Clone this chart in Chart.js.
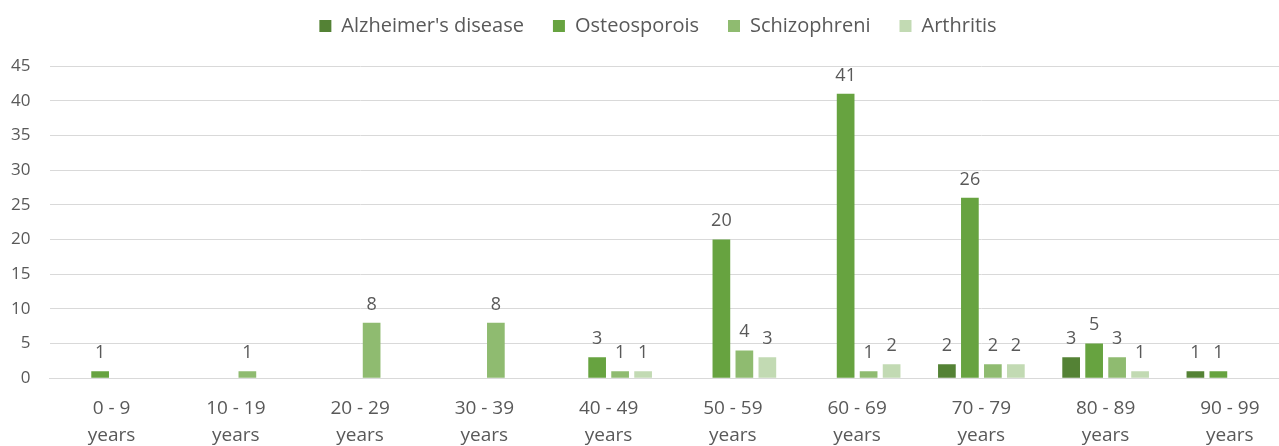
<!DOCTYPE html>
<html>
<head>
<meta charset="utf-8">
<script src="https://cdn.jsdelivr.net/npm/chart.js@4"></script>
<style>
  html, body { margin: 0; padding: 0; background: #fff; overflow: hidden; }
  #wrap { width: 1300px; height: 446px; }
</style>
</head>
<body>
<div id="wrap"><canvas id="chart"></canvas></div>
<script>
const ageGroups = [
  ['0 - 9', 'years'], ['10 - 19', 'years'], ['20 - 29', 'years'], ['30 - 39', 'years'],
  ['40 - 49', 'years'], ['50 - 59', 'years'], ['60 - 69', 'years'], ['70 - 79', 'years'],
  ['80 - 89', 'years'], ['90 - 99', 'years']
];
const alzheimers   = [0, 0, 0, 0, 0, 0, 0, 2, 3, 1];
const osteoporosis = [1, 0, 0, 0, 3, 20, 41, 26, 5, 1];
const schizophreni = [0, 1, 8, 8, 1, 4, 1, 2, 3, 0];
const arthritis    = [0, 0, 0, 0, 1, 3, 2, 2, 1, 0];

const textColor = '#595959';
const fontFamily = "'Open Sans', sans-serif";

// draws the value above each bar, skipping zeros
const valueLabels = {
  id: 'valueLabels',
  afterDatasetsDraw(chart) {
    const ctx = chart.ctx;
    ctx.save();
    ctx.font = '18px ' + fontFamily;
    ctx.fillStyle = textColor;
    ctx.textAlign = 'center';
    ctx.textBaseline = 'alphabetic';
    chart.data.datasets.forEach((ds, i) => {
      chart.getDatasetMeta(i).data.forEach((bar, j) => {
        if (!ds.data[j]) return;
        ctx.fillText(ds.data[j], bar.x, bar.y - 13);
      });
    });
    ctx.restore();
  }
};

// legend: fixed box height, nudged right to sit over the visible plot
const legendTweak = {
  id: 'legendTweak',
  beforeInit(chart) {
    const fit = chart.legend.fit;
    chart.legend.fit = function() {
      fit.call(this);
      this.height = 79;
    };
  },
  afterLayout(chart) {
    chart.legend.left += 24;
  }
};

new Chart(document.getElementById('chart'), {
  type: 'bar',
  data: {
    labels: ageGroups,
    datasets: [
      { label: "Alzheimer's disease", data: alzheimers, backgroundColor: '#548235' },
      { label: 'Osteosporois', data: osteoporosis, backgroundColor: '#67a340' },
      { label: 'Schizophreni', data: schizophreni, backgroundColor: '#8fbb70' },
      { label: 'Arthritis', data: arthritis, backgroundColor: '#c2dab3' }
    ]
  },
  options: {
    responsive: true,
    maintainAspectRatio: false,
    animation: false,
    layout: { padding: { top: -13, right: 8, left: 0, bottom: -20 } },
    datasets: { bar: { categoryPercentage: 0.74, barPercentage: 0.77 } },
    plugins: {
      legend: {
        position: 'top',
        labels: {
          color: textColor,
          font: { size: 20, family: fontFamily },
          boxWidth: 12,
          boxHeight: 12,
          padding: 29
        }
      },
      tooltip: { enabled: false }
    },
    scales: {
      x: {
        grid: { display: false, drawTicks: false },
        border: { color: '#d9d9d9' },
        ticks: {
          color: textColor,
          font: { size: 19, family: fontFamily, lineHeight: 1.47 },
          maxRotation: 0,
          padding: 16
        }
      },
      y: {
        min: 0,
        max: 45,
        afterFit(scale) { scale.width = 49.5; },
        ticks: { stepSize: 5, color: textColor, font: { size: 17, family: fontFamily }, padding: 19 },
        grid: { color: '#d9d9d9', drawTicks: false },
        border: { display: false }
      }
    }
  },
  plugins: [valueLabels, legendTweak]
});
</script>
</body>
</html>
